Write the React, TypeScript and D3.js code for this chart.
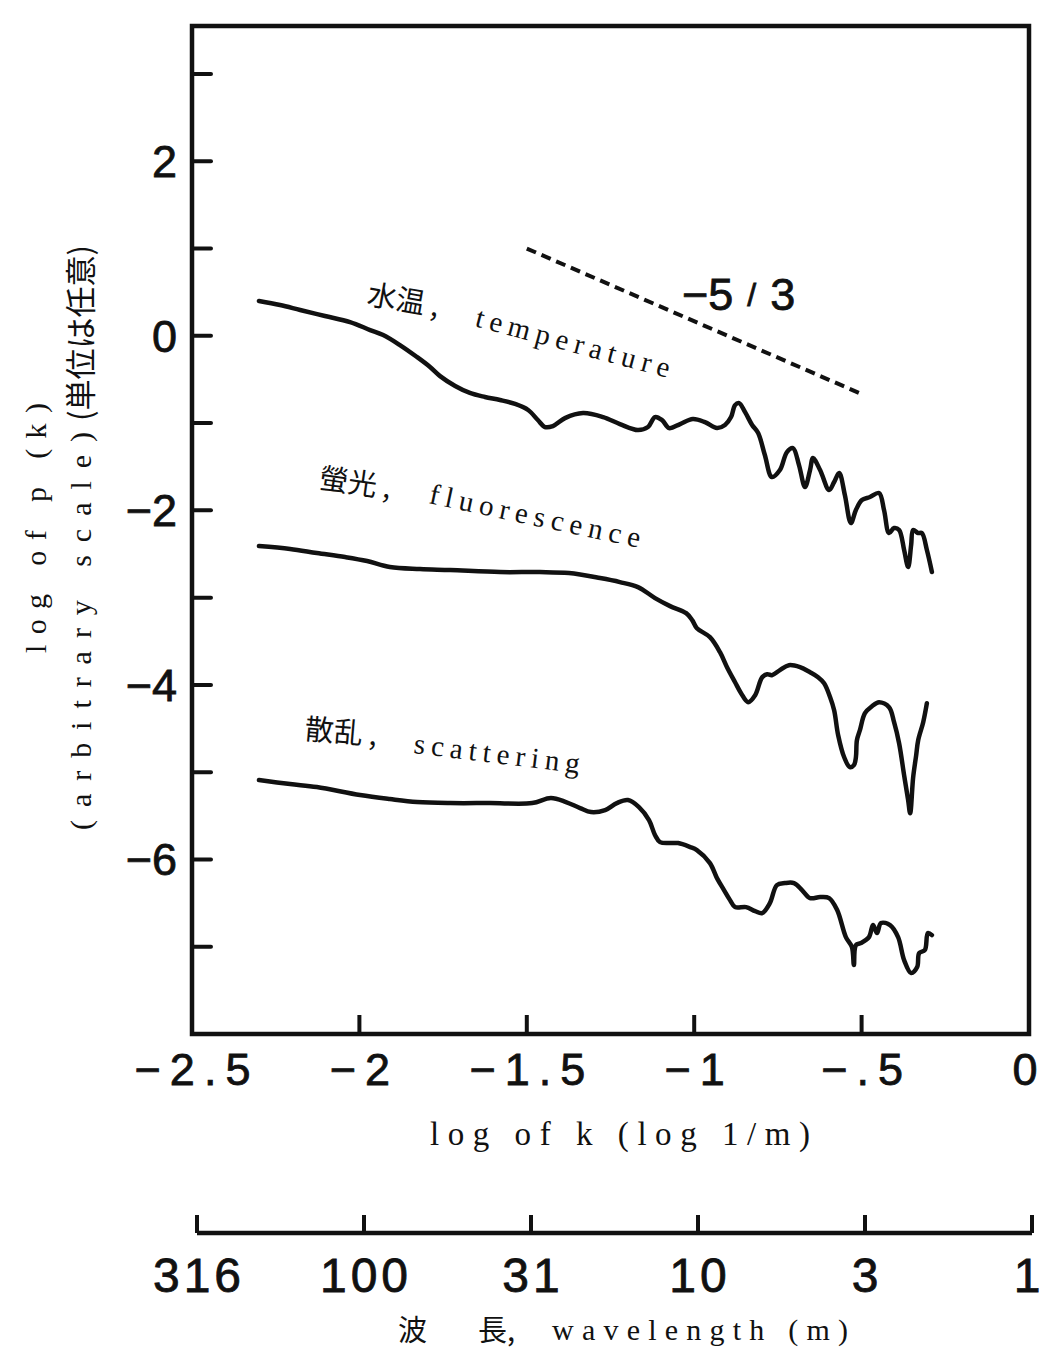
import React from "react";
import * as d3 from "d3";

// log10 of wavenumber k (1/m) against log10 of spectral power p(k), arbitrary units
const temperature: [number, number][] = [
  [-2.300, 0.399], [-2.237, 0.353], [-2.177, 0.296], [-2.103, 0.227], [-2.028, 0.158],
  [-1.968, 0.066], [-1.929, 0.009], [-1.879, -0.106], [-1.828, -0.243], [-1.789, -0.357],
  [-1.759, -0.462], [-1.714, -0.575], [-1.670, -0.655], [-1.625, -0.701], [-1.580, -0.736],
  [-1.535, -0.781], [-1.496, -0.850], [-1.467, -0.965], [-1.446, -1.045], [-1.422, -1.034],
  [-1.386, -0.943], [-1.332, -0.885], [-1.272, -0.931], [-1.222, -1.011], [-1.168, -1.080],
  [-1.138, -1.045], [-1.117, -0.931], [-1.096, -0.966], [-1.075, -1.057], [-1.042, -1.011],
  [-1.004, -0.954], [-0.968, -0.989], [-0.932, -1.057], [-0.908, -1.022], [-0.890, -0.931],
  [-0.878, -0.794], [-0.866, -0.771], [-0.848, -0.874], [-0.827, -1.022], [-0.809, -1.114],
  [-0.789, -1.366], [-0.768, -1.618], [-0.744, -1.538], [-0.723, -1.332], [-0.705, -1.286],
  [-0.687, -1.481], [-0.669, -1.733], [-0.654, -1.538], [-0.645, -1.401], [-0.624, -1.538],
  [-0.597, -1.767], [-0.582, -1.675], [-0.567, -1.572], [-0.550, -1.824], [-0.532, -2.145],
  [-0.517, -1.996], [-0.499, -1.882], [-0.475, -1.847], [-0.448, -1.801], [-0.433, -1.996],
  [-0.418, -2.260], [-0.403, -2.202], [-0.388, -2.225], [-0.373, -2.454], [-0.361, -2.649],
  [-0.352, -2.397], [-0.346, -2.225], [-0.331, -2.260], [-0.320, -2.260], [-0.305, -2.454],
  [-0.290, -2.706],
];

const fluorescence: [number, number][] = [
  [-2.300, -2.409], [-2.207, -2.443], [-2.127, -2.489], [-2.043, -2.535], [-1.977, -2.581],
  [-1.909, -2.650], [-1.819, -2.673], [-1.729, -2.684], [-1.580, -2.707], [-1.461, -2.707],
  [-1.374, -2.719], [-1.281, -2.776], [-1.222, -2.822], [-1.168, -2.879], [-1.117, -3.005],
  [-1.072, -3.097], [-1.024, -3.178], [-1.006, -3.258], [-0.992, -3.350], [-0.953, -3.453],
  [-0.923, -3.625], [-0.902, -3.797], [-0.878, -3.969], [-0.860, -4.095], [-0.839, -4.198],
  [-0.818, -4.118], [-0.797, -3.912], [-0.782, -3.877], [-0.768, -3.889], [-0.744, -3.831],
  [-0.717, -3.774], [-0.684, -3.797], [-0.654, -3.855], [-0.630, -3.912], [-0.612, -3.981],
  [-0.594, -4.141], [-0.582, -4.290], [-0.570, -4.576], [-0.552, -4.829], [-0.535, -4.943],
  [-0.523, -4.920], [-0.517, -4.829], [-0.514, -4.634], [-0.505, -4.519], [-0.490, -4.324],
  [-0.469, -4.244], [-0.448, -4.198], [-0.418, -4.255], [-0.403, -4.427], [-0.388, -4.668],
  [-0.373, -5.035], [-0.361, -5.321], [-0.355, -5.470], [-0.346, -5.058], [-0.337, -4.806],
  [-0.331, -4.634], [-0.316, -4.427], [-0.305, -4.209],
];

const scattering: [number, number][] = [
  [-2.300, -5.090], [-2.207, -5.136], [-2.127, -5.170], [-1.998, -5.262], [-1.909, -5.308],
  [-1.828, -5.342], [-1.729, -5.354], [-1.610, -5.354], [-1.484, -5.354], [-1.428, -5.296],
  [-1.383, -5.342], [-1.341, -5.411], [-1.308, -5.457], [-1.266, -5.434], [-1.231, -5.354],
  [-1.198, -5.319], [-1.165, -5.400], [-1.135, -5.549], [-1.117, -5.721], [-1.102, -5.801],
  [-1.072, -5.812], [-1.048, -5.812], [-1.012, -5.858], [-0.992, -5.893], [-0.953, -6.042],
  [-0.932, -6.214], [-0.911, -6.351], [-0.893, -6.466], [-0.878, -6.546], [-0.845, -6.546],
  [-0.818, -6.592], [-0.797, -6.615], [-0.774, -6.500], [-0.753, -6.294], [-0.729, -6.271],
  [-0.702, -6.271], [-0.678, -6.351], [-0.654, -6.443], [-0.624, -6.431], [-0.597, -6.443],
  [-0.573, -6.580], [-0.547, -6.890], [-0.529, -7.004], [-0.523, -7.210], [-0.517, -6.981],
  [-0.502, -6.958], [-0.478, -6.890], [-0.466, -6.752], [-0.454, -6.844], [-0.442, -6.729],
  [-0.415, -6.752], [-0.391, -6.890], [-0.373, -7.153], [-0.352, -7.302], [-0.334, -7.233],
  [-0.328, -7.073], [-0.311, -7.038], [-0.302, -6.844], [-0.290, -6.867],
];

// Kolmogorov -5/3 reference slope
const slopeLine: [number, number][] = [[-1.5, 1.0], [-0.5, 1.0 - 5 / 3]];

const xTicks = [-2.5, -2, -1.5, -1, -0.5, 0];
const xTickLabels = ["−2.5", "−2", "−1.5", "−1", "−.5", "0"];
const yTicks = [-7, -6, -5, -4, -3, -2, -1, 0, 1, 2, 3];
const yLabelTicks = [2, 0, -2, -4, -6];
const yTickLabels = ["2", "0", "−2", "−4", "−6"];
const waveTicks = [Math.pow(10, 2.5), 100, Math.pow(10, 1.5), 10, Math.pow(10, 0.5), 1];
const waveTickLabels = ["316", "100", "31", "10", "3", "1"];

const SANS = "'Liberation Sans', Arial, sans-serif";
const SERIF = "'Liberation Serif', 'Times New Roman', serif";
const CJK = "'Noto Sans CJK JP', 'Noto Sans CJK SC', sans-serif";

export default function App() {
  const W = 1040;
  const H = 1349;
  const left = 192, right = 1029, top = 26, bottom = 1034;

  const x = d3.scaleLinear().domain([-2.5, 0]).range([left, right]);
  const y = d3.scaleLinear().domain([-8, 3.55]).range([bottom, top]);
  const xw = d3.scaleLog().domain([Math.pow(10, 2.5), 1]).range([197, 1032]);
  const waveY = 1233;

  const line = d3
    .line<[number, number]>()
    .x((d) => x(d[0]))
    .y((d) => y(d[1]))
    .curve(d3.curveCatmullRom.alpha(0.5));
  const straight = d3
    .line<[number, number]>()
    .x((d) => x(d[0]))
    .y((d) => y(d[1]));

  const ink = "#111";
  // keep edge labels inside the page
  const clampX = (px: number, half: number) => Math.min(px, W - half - 1);

  return (
    <svg
      width={W}
      height={H}
      viewBox={`0 0 ${W} ${H}`}
      style={{ position: "absolute", left: 0, top: 0, background: "#fff" }}
    >
      <rect x={0} y={0} width={W} height={H} fill="#fff" />

      {/* plot frame */}
      <rect
        x={left}
        y={top}
        width={right - left}
        height={bottom - top}
        fill="none"
        stroke={ink}
        strokeWidth={4.5}
      />

      {/* y ticks, pointing inward */}
      {yTicks.map((t) => (
        <line
          key={"yt" + t}
          x1={left}
          x2={left + 19}
          y1={y(t)}
          y2={y(t)}
          stroke={ink}
          strokeWidth={4}
          strokeLinecap="round"
        />
      ))}
      {yLabelTicks.map((t, i) => (
        <text
          key={"yl" + t}
          x={177}
          y={y(t) + 16}
          textAnchor="end"
          fontFamily={SANS}
          fontSize={45}
          fill={ink}
          stroke={ink}
          strokeWidth={0.8}
        >
          {yTickLabels[i]}
        </text>
      ))}

      {/* x ticks, pointing up from the bottom edge */}
      {xTicks
        .filter((t) => t > -2.5 && t < 0)
        .map((t) => (
          <line
            key={"xt" + t}
            x1={x(t)}
            x2={x(t)}
            y1={bottom}
            y2={bottom - 19}
            stroke={ink}
            strokeWidth={4}
          />
        ))}
      {xTicks.map((t, i) => {
        const single = xTickLabels[i].length === 1;
        return (
          <text
            key={"xl" + t}
            x={single ? clampX(x(t), 14) : x(t) + 5}
            y={1085}
            textAnchor="middle"
            fontFamily={SANS}
            fontSize={45}
            letterSpacing={single ? 0 : 9}
            fill={ink}
            stroke={ink}
            strokeWidth={0.8}
          >
            {xTickLabels[i]}
          </text>
        );
      })}

      {/* x axis title */}
      <text
        x={430}
        y={1145}
        fontFamily={SERIF}
        fontSize={33}
        textLength={380}
        lengthAdjust="spacing"
        fill={ink}
      >
        log of k (log 1/m)
      </text>

      {/* y axis title, two rotated lines */}
      <text
        transform={`translate(46,528) rotate(-90)`}
        textAnchor="middle"
        fontFamily={SERIF}
        fontSize={30}
        textLength={250}
        lengthAdjust="spacing"
        fill={ink}
      >
        log of p (k)
      </text>
      <text
        transform={`translate(91,830) rotate(-90)`}
        fontFamily={SERIF}
        fontSize={30}
        textLength={398}
        lengthAdjust="spacing"
        fill={ink}
      >
        (arbitrary scale)
      </text>
      <text
        transform={`translate(92,245) rotate(-90)`}
        textAnchor="end"
        fontFamily={CJK}
        fontSize={31}
        fill={ink}
      >
        (単位は任意)
      </text>

      {/* spectra */}
      {[temperature, fluorescence, scattering].map((s, i) => (
        <path
          key={"s" + i}
          d={line(s) || ""}
          fill="none"
          stroke={ink}
          strokeWidth={4.5}
          strokeLinejoin="round"
          strokeLinecap="round"
        />
      ))}

      {/* -5/3 slope */}
      <path
        d={straight(slopeLine) || ""}
        fill="none"
        stroke={ink}
        strokeWidth={4}
        strokeDasharray="10 6"
      />
      <text x={682} y={310} fontFamily={SANS} fontSize={45} fill={ink} stroke={ink} strokeWidth={0.8}>
        −5
        <tspan dx={14} dy={-4} fontSize={32}>/</tspan>
        <tspan dx={14} dy={4}>3</tspan>
      </text>

      {/* curve labels */}
      <text transform="translate(366,304) rotate(10)" fontFamily={CJK} fontSize={29} fill={ink}>
        水温 ,
      </text>
      <text
        transform="translate(474,326) rotate(15)"
        fontFamily={SERIF}
        fontSize={29}
        textLength={200}
        lengthAdjust="spacing"
        fill={ink}
      >
        temperature
      </text>

      <text transform="translate(318,488) rotate(8)" fontFamily={CJK} fontSize={29} fill={ink}>
        螢光 ,
      </text>
      <text
        transform="translate(428,503) rotate(12)"
        fontFamily={SERIF}
        fontSize={29}
        textLength={215}
        lengthAdjust="spacing"
        fill={ink}
      >
        fluorescence
      </text>

      <text transform="translate(304,739) rotate(5)" fontFamily={CJK} fontSize={29} fill={ink}>
        散乱 ,
      </text>
      <text
        transform="translate(413,753) rotate(7)"
        fontFamily={SERIF}
        fontSize={29}
        textLength={167}
        lengthAdjust="spacing"
        fill={ink}
      >
        scattering
      </text>

      {/* wavelength axis */}
      <line x1={xw(waveTicks[0])} x2={xw(1)} y1={waveY} y2={waveY} stroke={ink} strokeWidth={4.5} />
      {waveTicks.map((t) => (
        <line
          key={"wt" + t}
          x1={xw(t)}
          x2={xw(t)}
          y1={waveY}
          y2={waveY - 18}
          stroke={ink}
          strokeWidth={4}
        />
      ))}
      {waveTicks.map((t, i) => {
        const single = waveTickLabels[i].length === 1;
        return (
          <text
            key={"wl" + t}
            x={single ? clampX(xw(t), 12) : xw(t) + 2}
            y={1292}
            textAnchor="middle"
            fontFamily={SANS}
            fontSize={48}
            letterSpacing={single ? 0 : 4}
            fill={ink}
            stroke={ink}
            strokeWidth={0.8}
          >
            {waveTickLabels[i]}
          </text>
        );
      })}
      <text x={398} y={1341} fontFamily={CJK} fontSize={29} fill={ink}>波</text>
      <text x={478} y={1341} fontFamily={CJK} fontSize={29} fill={ink}>長,</text>
      <text
        x={552}
        y={1340}
        fontFamily={SERIF}
        fontSize={30}
        textLength={296}
        lengthAdjust="spacing"
        fill={ink}
      >
        wavelength (m)
      </text>
    </svg>
  );
}
